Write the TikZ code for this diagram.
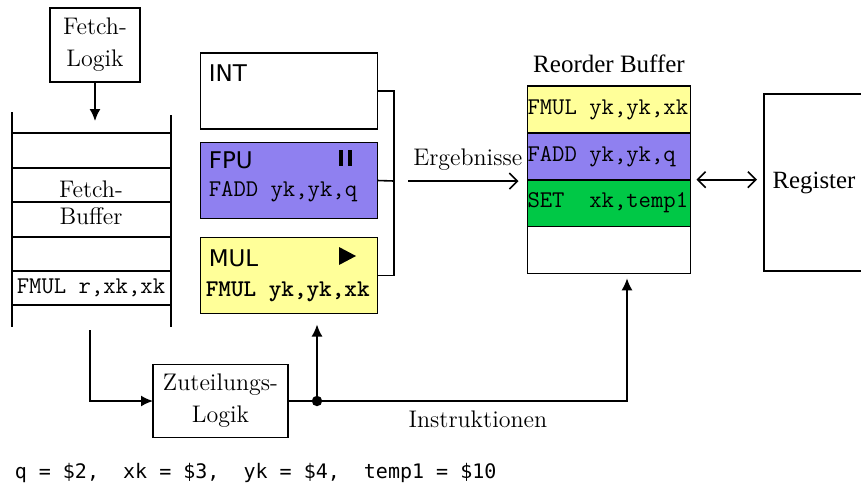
\documentclass[tikz,border=0pt]{standalone}
\usepackage{fontspec}
\usetikzlibrary{positioning,arrows.meta}
\newfontfamily\regfont{Liberation Serif}
\newfontfamily\unitfont{DejaVu Sans}
\newfontfamily\mapfont{DejaVu Sans Mono}
\definecolor{fpucol}{HTML}{8F80F0}
\definecolor{mulcol}{HTML}{FFFF99}
\definecolor{setcol}{HTML}{00C846}
\tikzset{
  box/.style={draw, line width=0.8pt, inner sep=0pt, outer sep=0pt},
  unitbox/.style={box, minimum width=88.5pt, minimum height=38pt},
  rowbox/.style={box, minimum width=81.5pt, minimum height=23.4pt, font=\fontsize{12}{14}\selectfont\ttfamily},
  lbl/.style={font=\fontsize{12}{16}\selectfont, align=center},
  code/.style={anchor=west, inner xsep=0pt, font=\fontsize{12}{14}\selectfont\ttfamily},
  unitname/.style={anchor=west, inner xsep=0pt, font=\unitfont\fontsize{11.5}{13}\selectfont},
  fill arrow/.style={-{Latex[length=6pt,width=5.5pt]}},
  open arrow/.style={-{Straight Barb[length=4pt,width=8pt]}},
  both arrow/.style={{Straight Barb[length=4pt,width=8pt]}-{Straight Barb[length=4pt,width=8pt]}}
}
\begin{document}
\begin{tikzpicture}[x=0.5pt, y=-0.5pt, line width=0.8pt]
\useasboundingbox (0,0) rectangle (861,489);

% fetch logic and fetch buffer
\node[box, lbl, minimum width=45pt, minimum height=37pt] (fetchlogik) at (95,45) {Fetch-\\Logik};
\coordinate (fbtop) at ([yshift=-19.5pt]fetchlogik.south);
\draw[fill arrow] (fetchlogik.south) -- (fbtop);
\draw (12,112) -- (12,327);
\draw (171,115) -- (171,327);
\foreach \y in {133,168,202,237,271,305} {\draw (12,\y) -- (171,\y);}
\node[lbl, font=\fontsize{12}{13.5}\selectfont] (fetchbuf) at (91,203) {Fetch-\\Buffer};
\node[code, anchor=center] (fbentry) at (91,288) {FMUL r,xk,xk};

% functional units
\node[unitbox] (int) at (289,91) {};
\node[unitbox, fill=fpucol] (fpu) at (289,180.5) {};
\node[unitbox, fill=mulcol] (mul) at (289,275.5) {};
\node[unitname] (intname) at (208,73) {INT};
\node[unitname] (fpuname) at (208,160) {FPU};
\node[code] (fpuop) at (208,192) {FADD yk,yk,q};
\node[unitname] (mulname) at (208,258) {MUL};
\node[code] (mulop) at (205,292) {\bfseries FMUL yk,yk,xk};
\fill (339,150) rectangle (343,166);
\fill (348,150) rectangle (352,166);
\fill (339,247) -- (356,256) -- (339,265) -- cycle;

\coordinate (join) at (394,181);
\draw (int.east) -| (join) |- (mul.east);
\draw (fpu.east) -- (join);

% reorder buffer
\node[rowbox, fill=mulcol] (rob1) at (609,109.5) {\makebox[81.5pt][l]{FMUL yk,yk,xk}};
\node[rowbox, fill=fpucol, below=0pt of rob1] (rob2) {\makebox[81.5pt][l]{FADD yk,yk,q}};
\node[rowbox, fill=setcol, below=0pt of rob2] (rob3) {\makebox[81.5pt][l]{SET\ \ xk,temp1}};
\node[rowbox, below=0pt of rob3] (rob4) {};
\node[font=\regfont\fontsize{12.5}{14}\selectfont, above=3pt of rob1] (robtitle) {Reorder Buffer};

\coordinate (ergstart) at ([xshift=7pt]join);
\draw[open arrow, shorten >=4.5pt] (ergstart) -- (ergstart -| rob1.west)
  node[midway, above=1.5pt, lbl] (erglbl) {Ergebnisse};

% register file
\node[box, minimum width=50pt, minimum height=88.5pt, anchor=west, font=\regfont\fontsize{12.4}{14}\selectfont] (reg) at (764,182.5) {Register};
\draw[both arrow, shorten <=3pt, shorten >=3.5pt] (rob2.south east) -- (rob2.south east -| reg.west);

% dispatch
\node[box, lbl, minimum width=67.5pt, minimum height=36.5pt] (zut) at (220.5,401) {Zuteilungs-\\Logik};
\coordinate (fbout) at (90,330);
\draw[fill arrow] (fbout) |- (zut.west);
\coordinate (split) at ([xshift=14.5pt]zut.east);
\coordinate (robin) at ([xshift=9pt]rob4.south);
\draw[fill arrow, shorten >=2.5pt] (zut.east) -| (robin)
  node[pos=0.28, below=1pt, lbl] (instr) {Instruktionen};
\fill (split) circle (2.6pt);
\draw[fill arrow, shorten >=5.5pt] (split) -- (split |- mul.south);

\node[anchor=west, inner sep=0pt, font=\mapfont\fontsize{10}{12}\selectfont] (regmap) at (14,473) {q = \$2,\ \ xk = \$3,\ \ yk = \$4,\ \ temp1 = \$10};

\end{tikzpicture}
\end{document}
